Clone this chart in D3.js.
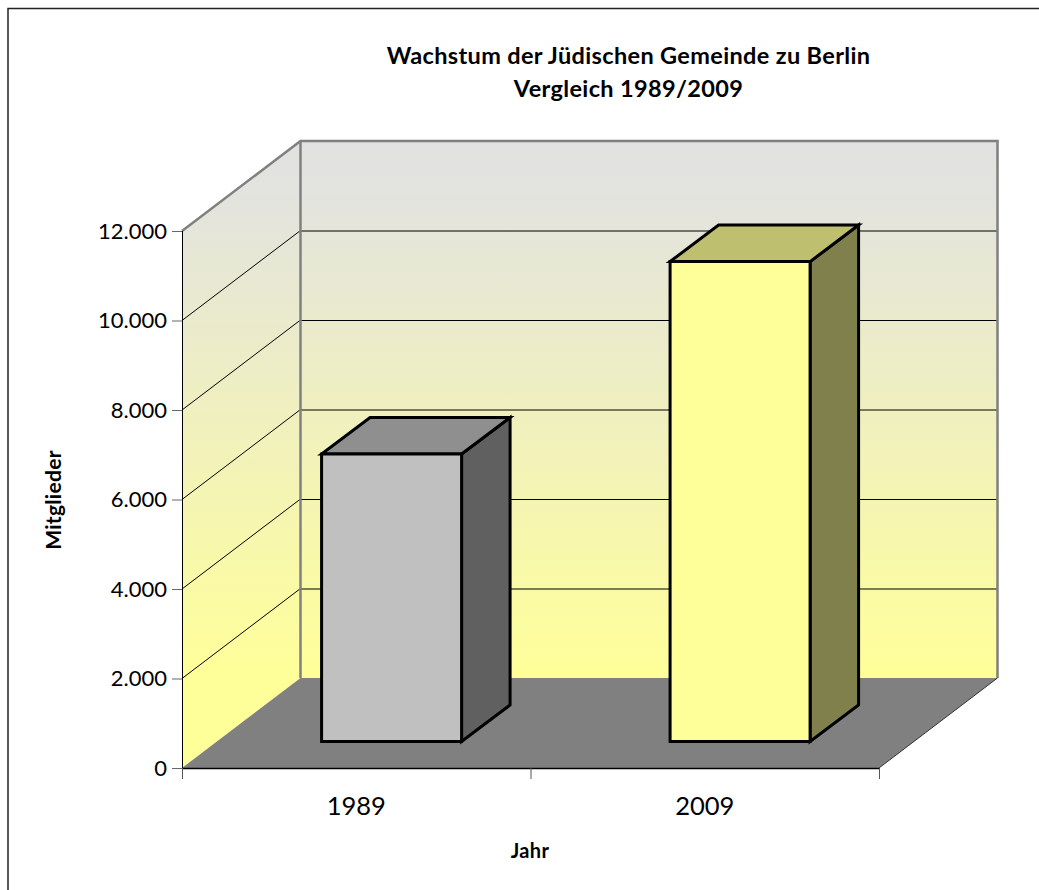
<!DOCTYPE html>
<html>
<head>
<meta charset="utf-8">
<script src="https://cdn.jsdelivr.net/npm/d3@7"></script>
<style>
html, body { margin: 0; padding: 0; background: #fff; }
svg { display: block; }
text { font-family: Lato, "Open Sans", sans-serif; fill: #000; }
</style>
</head>
<body>
<div id="chart"></div>
<script>
const titleLines = ["Wachstum der Jüdischen Gemeinde zu Berlin", "Vergleich 1989/2009"];
const years = ["1989", "2009"];
const members = [6425, 10725];
const barFill = ["#c0c0c0", "#ffff99"];
const barTop = ["#8f8f8f", "#bfbf70"];
const barSide = ["#606060", "#80804d"];
const yTicks = [0, 2000, 4000, 6000, 8000, 10000, 12000];
const yTickLabels = ["0", "2.000", "4.000", "6.000", "8.000", "10.000", "12.000"];

const width = 1039, height = 890;
const svg = d3.select("#chart").append("svg").attr("width", width).attr("height", height);

// front plane of the box, depth is a shift towards back right
const x = d3.scaleBand().domain(years).range([182, 879]);
const y = d3.scaleLinear().domain([0, 12000]).range([768, 231]);
const depthX = 118.5, depthY = -90;
const pt = (px, py, t) => [px + depthX * t, py + depthY * t];
const poly = pts => "M" + pts.map(p => p.join(",")).join("L") + "Z";

const grad = svg.append("defs").append("linearGradient")
    .attr("id", "wall").attr("gradientUnits", "userSpaceOnUse")
    .attr("x1", 0).attr("x2", 0).attr("y1", 141).attr("y2", 678);
grad.append("stop").attr("offset", 0).attr("stop-color", "#e1e1e1");
grad.append("stop").attr("offset", 0.1).attr("stop-color", "#e3e3df");
grad.append("stop").attr("offset", 1).attr("stop-color", "#ffff99");

// outer chart frame, only top and left are inside the picture
svg.append("path").attr("d", "M8,890V8.5H1039")
    .attr("fill", "none").attr("stroke", "#222").attr("stroke-width", 1.5);

const [x0, x1] = x.range(), yMax = y(12000), yMin = y(0);

// walls
svg.append("path").attr("d", poly([[x0, yMin], [x0, yMax], pt(x0, yMax, 1), pt(x0, yMin, 1)]))
    .attr("fill", "url(#wall)");
svg.append("path").attr("d", poly([pt(x0, yMin, 1), pt(x0, yMax, 1), pt(x1, yMax, 1), pt(x1, yMin, 1)]))
    .attr("fill", "url(#wall)");
// floor
svg.append("path").attr("d", poly([[x0, yMin], [x1, yMin], pt(x1, yMin, 1), pt(x0, yMin, 1)]))
    .attr("fill", "#808080");

// gridlines, side wall then back wall
yTicks.slice(1).forEach(t => {
    const c = t === 12000 ? "#6e6e6e" : "#000";
    if (t < 12000) svg.append("path").attr("d", "M" + [x0, y(t)] + "L" + pt(x0, y(t), 1))
        .attr("stroke", "#000").attr("stroke-width", 1).attr("fill", "none");
    const b = pt(x0, y(t), 1), e = pt(x1, y(t), 1);
    svg.append("line").attr("x1", b[0]).attr("y1", b[1] + 0.5).attr("x2", e[0]).attr("y2", e[1] + 0.5)
        .attr("stroke", c).attr("stroke-width", 1);
});

// wall edges in grey
svg.append("path")
    .attr("d", "M" + [x0, yMax] + "L" + pt(x0, yMax, 1) + "L" + pt(x1, yMax, 1) + "L" + pt(x1, yMin, 1))
    .attr("fill", "none").attr("stroke", "#808080").attr("stroke-width", 2.5);
svg.append("path").attr("d", "M" + pt(x0, yMax, 1) + "L" + pt(x0, yMin, 1))
    .attr("fill", "none").attr("stroke", "#808080").attr("stroke-width", 2.5);
svg.append("path").attr("d", "M" + pt(x1, yMin, 1) + "L" + [x1, yMin])
    .attr("fill", "none").attr("stroke", "#333").attr("stroke-width", 1);

// bars stand in the middle part of the floor depth
const barStart = 0.294, barEnd = 0.70;
const barW = 140;
years.forEach((yr, i) => {
    const l = x(yr) + (x.bandwidth() - barW) / 2, r = l + barW;
    const b = y(0), tp = y(members[i]);
    const lift = depthY * barStart, shift = depthX * barStart;
    const h = b - tp;
    const fl = l + shift + 0.5, fr = r + shift + 0.5, fb = b + lift, ft = fb - h;
    const dx = 48.5, dy = depthY * (barEnd - barStart);
    const g = svg.append("g").attr("stroke", "#000").attr("stroke-width", 3).attr("stroke-linejoin", "miter");
    g.append("path").attr("d", poly([[fr, fb], [fr, ft], [fr + dx, ft + dy], [fr + dx, fb + dy]])).attr("fill", barSide[i]);
    g.append("path").attr("d", poly([[fl, ft], [fr, ft], [fr + dx, ft + dy], [fl + dx, ft + dy]])).attr("fill", barTop[i]);
    g.append("path").attr("d", poly([[fl, fb], [fl, ft], [fr, ft], [fr, fb]])).attr("fill", barFill[i]);
});

// axes
const yAxis = d3.axisLeft(y).tickValues(yTicks).tickSize(10).tickPadding(5)
    .tickFormat((d, i) => yTickLabels[i]);
const yG = svg.append("g").attr("transform", `translate(${x0},0)`).call(yAxis);
yG.selectAll("text").attr("font-size", 22);
yG.selectAll(".tick line").attr("stroke", "#666").attr("stroke-width", 1);
yG.select(".domain").attr("stroke", "#000").attr("d", `M0.5,${yMax}V${yMin + 11}`);

const xAxis = d3.axisBottom(x).tickSize(0).tickPadding(29);
const xG = svg.append("g").attr("transform", `translate(0,${yMin})`).call(xAxis);
xG.select(".domain").attr("stroke", "#000").attr("stroke-width", 1.5).attr("d", `M${x0},0.5H${x1}`);
xG.selectAll("text").attr("font-size", 25.5);
xG.selectAll(".tickmark").data([x0, x0 + x.step(), x1]).join("line").attr("class", "tickmark")
    .attr("x1", d => d + 0.5).attr("x2", d => d + 0.5).attr("y1", 0).attr("y2", 11)
    .attr("stroke", "#555");

// titles
svg.append("text").attr("text-anchor", "middle").attr("font-weight", 700).attr("font-size", 23.5)
    .attr("letter-spacing", 0.35)
    .selectAll("tspan").data(titleLines).join("tspan")
    .attr("x", 628.5).attr("y", (d, i) => 64 + i * 33).text(d => d);
svg.append("text").attr("x", 530).attr("y", 858).attr("text-anchor", "middle")
    .attr("font-weight", 700).attr("font-size", 20).attr("letter-spacing", 0.3).text("Jahr");
svg.append("text").attr("transform", "translate(61,500) rotate(-90)").attr("text-anchor", "middle")
    .attr("font-weight", 700).attr("font-size", 21).attr("letter-spacing", 0.3).text("Mitglieder");
</script>
</body>
</html>
